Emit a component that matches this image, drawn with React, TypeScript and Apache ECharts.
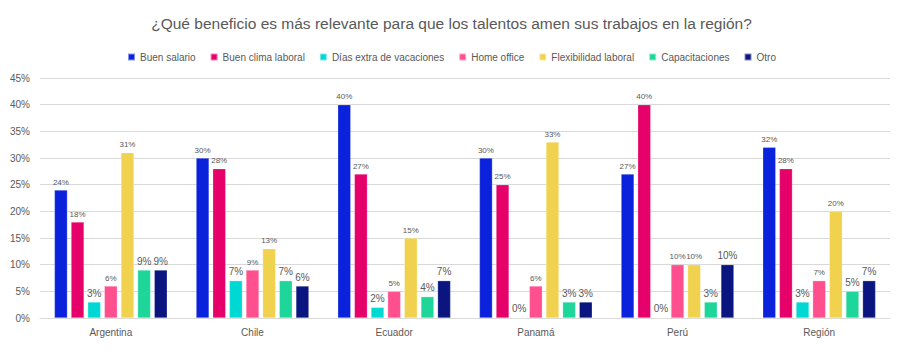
import React, { useEffect, useRef } from "react";
import * as echarts from "echarts";

const categories = ["Argentina", "Chile", "Ecuador", "Panamá", "Perú", "Región"];
const seriesNames = [
  "Buen salario",
  "Buen clima laboral",
  "Días extra de vacaciones",
  "Home office",
  "Flexibilidad laboral",
  "Capacitaciones",
  "Otro",
];
const buenSalario = [24, 30, 40, 30, 27, 32];
const buenClima = [18, 28, 27, 25, 40, 28];
const diasExtra = [3, 7, 2, 0, 0, 3];
const homeOffice = [6, 9, 5, 6, 10, 7];
const flexibilidad = [31, 13, 15, 33, 10, 20];
const capacitaciones = [9, 7, 4, 3, 3, 5];
const otro = [9, 6, 7, 3, 10, 7];
const allValues = [buenSalario, buenClima, diasExtra, homeOffice, flexibilidad, capacitaciones, otro];
const colors = ["#0A22DC", "#E6006A", "#00D9D3", "#FF4F8F", "#F0D24E", "#1ED69A", "#0A1580"];
const bigLabel = [false, false, true, false, false, true, true];

export default function App() {
  const ref = useRef<HTMLDivElement>(null);
  useEffect(() => {
    if (!ref.current) return;
    const chart = echarts.init(ref.current, undefined, { renderer: "svg" });
    const font = "Liberation Sans";
    chart.setOption({
      animation: false,
      backgroundColor: "#ffffff",
      textStyle: { fontFamily: font },
      title: {
        text: "¿Qué beneficio es más relevante para que los talentos amen sus trabajos en la región?",
        left: "center",
        top: 10,
        textStyle: { fontSize: 15.5, fontWeight: "normal", color: "#595959", fontFamily: font },
      },
      legend: {
        top: 47,
        left: "center",
        itemWidth: 7,
        itemHeight: 7,
        itemGap: 14,
        icon: "rect",
        textStyle: { fontSize: 10, color: "#595959", fontFamily: font },
        data: seriesNames,
      },
      grid: { left: 40, right: 13, top: 78, bottom: 33, containLabel: false },
      xAxis: {
        type: "category",
        data: categories,
        axisLine: { lineStyle: { color: "#D9D9D9" } },
        axisTick: { show: false },
        axisLabel: { color: "#595959", fontSize: 10, margin: 9 },
      },
      yAxis: {
        type: "value",
        min: 0,
        max: 45,
        interval: 5,
        axisLabel: { formatter: "{value}%", color: "#595959", fontSize: 10, margin: 10 },
        splitLine: { lineStyle: { color: "#D9D9D9" } },
        axisLine: { show: false },
        axisTick: { show: false },
      },
      series: seriesNames.map((name, i) => ({
        name,
        type: "bar",
        data: allValues[i],
        barWidth: 13,
        barGap: "28%",
        itemStyle: { color: colors[i], borderColor: "rgba(255,255,255,0.5)", borderWidth: 0.5 },
        label: {
          show: true,
          position: "top",
          distance: 4,
          formatter: "{c}%",
          color: "#595959",
          fontSize: bigLabel[i] ? 10 : 8,
        },
      })),
    });
    return () => chart.dispose();
  }, []);
  return (
    <div
      ref={ref}
      style={{ position: "fixed", left: 0, top: 0, width: 903, height: 351 }}
    />
  );
}
